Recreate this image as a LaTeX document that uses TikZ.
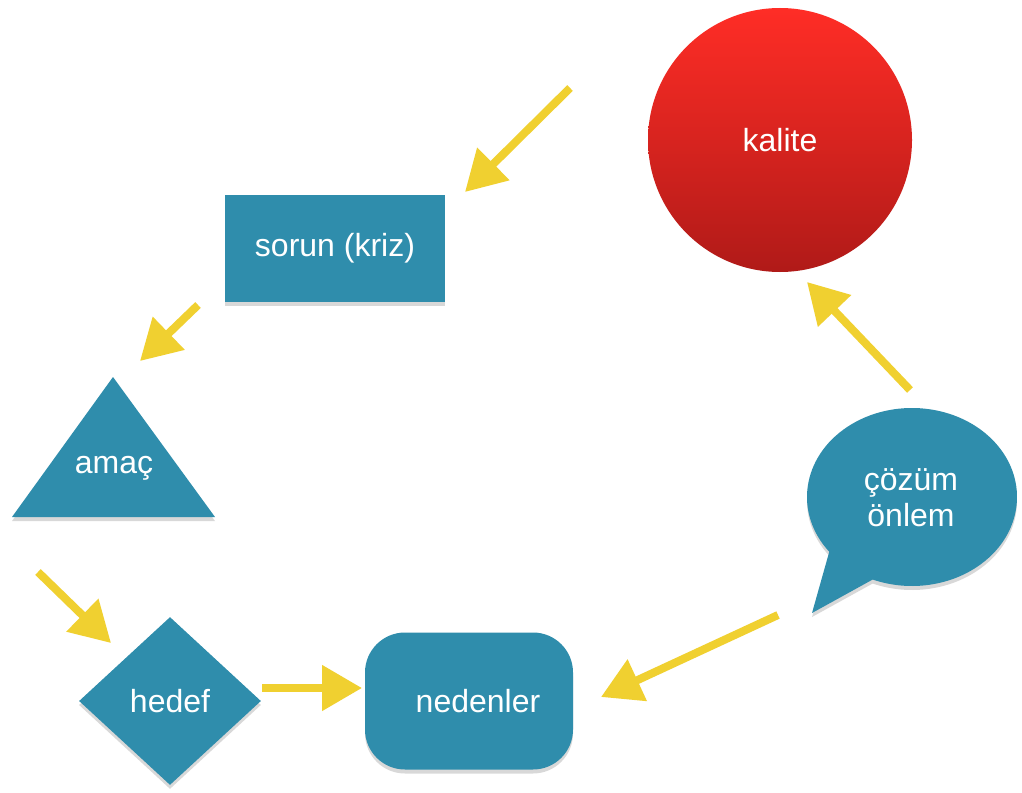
\documentclass[tikz,border=0pt]{standalone}
\usepackage{fontspec}
\setmainfont{Liberation Sans}
\usetikzlibrary{shapes, arrows.meta, shadows}

\definecolor{boxblue}{RGB}{47,141,172}
\definecolor{arrowyellow}{RGB}{240,208,48}
\definecolor{kalitetop}{RGB}{255,45,38}
\definecolor{kalitebot}{RGB}{176,26,24}

\begin{document}
\begin{tikzpicture}[x=0.5pt, y=-0.5pt]
    \tikzstyle{blob} = [fill=boxblue, text=white, font=\fontsize{16}{18}\selectfont, inner sep=0pt, drop shadow={opacity=0.3, shadow xshift=0pt, shadow yshift=-2pt}]
    \tikzstyle{caption} = [text=white, font=\fontsize{16}{18}\selectfont, align=center]
    \tikzstyle{arrow} = [line width=4pt, draw=arrowyellow, -{Triangle[length=20pt, width=22pt]}]

    \useasboundingbox[fill=white] (0,0) rectangle (1022,792);

    \shade[top color=kalitetop, bottom color=kalitebot] (780,140) circle [radius=132];
    \node (kalite) [caption] at (780,140) {kalite};
    \node (sorun) [blob, rectangle, minimum width=110pt, minimum height=53.5pt] at (335,248) {sorun (kriz)};

    % triangle and bubble are drawn as paths
    \fill[blob] (113,377) -- (215,517) -- (12,517) -- cycle;
    \node (amac) [caption] at (114,468) {amaç};

    \node (hedef) [blob, diamond, minimum width=91pt, minimum height=84pt] at (170,701) {hedef};
    \node (nedenler) [blob, rectangle, rounded corners=20pt, minimum width=104pt, minimum height=68.5pt] at (469,701) {\hspace*{9pt}nedenler};

    \fill[blob] (812,613) -- ([shift={(912,497)}]142:105 and 89) arc [start angle=142, end angle=472, x radius=105, y radius=89] -- cycle;
    \node (cozum) [caption] at (911,498) {çözüm\\önlem};

    % Arrows
    \coordinate (startSorun) at (570,88);
    \coordinate (endSorun) at (465,192);
    \coordinate (startAmac) at (198,305);
    \coordinate (endAmac) at (140,361);
    \coordinate (startHedef) at (38,572);
    \coordinate (endHedef) at (111,643);
    \coordinate (startNeden) at (262,688);
    \coordinate (endNeden) at (362,688);
    \coordinate (startCozum) at (778,615);
    \coordinate (endCozum) at (601,697);
    \coordinate (startKalite) at (910,390);
    \coordinate (endKalite) at (807,282);

    \draw [arrow] (startSorun) -- (endSorun);
    \draw [arrow] (startAmac) -- (endAmac);
    \draw [arrow] (startHedef) -- (endHedef);
    \draw [arrow] (startNeden) -- (endNeden);
    \draw [arrow] (startCozum) -- (endCozum);
    \draw [arrow] (startKalite) -- (endKalite);
\end{tikzpicture}
\end{document}
